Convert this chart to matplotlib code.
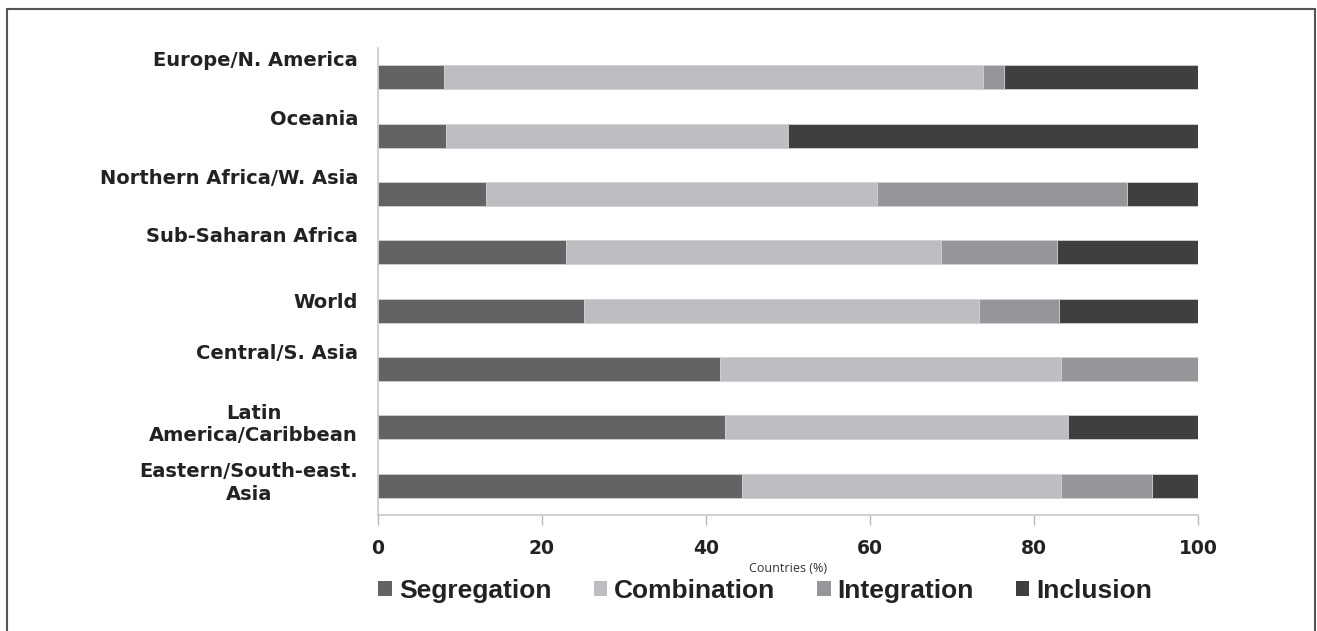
import numpy as np
import matplotlib
matplotlib.use('Agg')
import matplotlib.pyplot as plt
from matplotlib.patches import Patch, Rectangle

regions = ['Europe/N. America', 'Oceania', 'Northern Africa/W. Asia',
           'Sub-Saharan Africa', 'World', 'Central/S. Asia',
           'Latin\nAmerica/Caribbean', 'Eastern/South-east.\nAsia']

segregation = [8.0, 8.3, 13.2, 22.9, 25.1, 41.7, 42.3, 44.4]
combination = [65.8, 41.7, 47.6, 45.7, 48.2, 41.6, 41.9, 38.9]
integration = [2.5, 0.0, 30.6, 14.2, 9.7, 16.7, 0.0, 11.1]
inclusion = [23.7, 50.0, 8.6, 17.2, 17.0, 0.0, 15.8, 5.6]

series = ['Segregation', 'Combination', 'Integration', 'Inclusion']
colors = ['#636365', '#bdbec2', '#95969a', '#3f3f3f']
xticks = [0, 20, 40, 60, 80, 100]

# vertical nudge (pixels) for each category label
label_lift = [17, 16, 15, 16, 8, 16, 3, 3]

W, H = 1317, 631
fig = plt.figure(figsize=(W / 100, H / 100), dpi=100)
ax = fig.add_axes([378 / W, 1 - 515 / H, 820 / W, 467 / H])

y = np.arange(len(regions))
left = np.zeros(len(regions))
for vals, name, c in zip([segregation, combination, integration, inclusion], series, colors):
    ax.barh(y, vals, left=left, height=0.41, color=c, edgecolor='#d0d0d0',
            linewidth=0.6, label=name)
    left += np.array(vals)

ax.set_ylim(len(regions) - 0.5, -0.5)
ax.set_xlim(0, 100)
ax.set_xticks(xticks)
ax.set_xticklabels([str(t) for t in xticks], fontsize=13.5, fontweight='bold',
                   color='#222222')
ax.set_yticks([])
ax.tick_params(axis='x', length=7, width=1, color='#b8b8b8', pad=10)

for s in ['top', 'right']:
    ax.spines[s].set_visible(False)
for s in ['left', 'bottom']:
    ax.spines[s].set_color('#c8c8c8')
    ax.spines[s].set_linewidth(1.2)

for i, (lab, lift) in enumerate(zip(regions, label_lift)):
    ax.annotate(lab, xy=(0, i), xycoords=('axes fraction', 'data'),
                xytext=(-20, lift), textcoords='offset pixels',
                ha='right', va='center', multialignment='center',
                fontsize=14, fontweight='bold', color='#222222', linespacing=1.25)

fig.text(788 / W, 1 - 568 / H, 'Countries (%)', ha='center', va='center',
         fontsize=9, family='Open Sans', color='#333333')

handles = [Patch(facecolor=c, edgecolor='none') for c in colors]
fig.legend(handles, series, loc='center left', bbox_to_anchor=(360 / W, 1 - 591 / H),
           ncol=4, frameon=False, handlelength=0.5, handleheight=0.5,
           handletextpad=0.27, columnspacing=1.6, borderpad=0.2,
           prop={'size': 19, 'weight': 'bold', 'family': 'Liberation Sans'},
           labelcolor='#222222')

# outer frame
fig.patches.append(Rectangle((7 / W, -0.05), 1308 / W, 1.05 - 9 / H,
                             transform=fig.transFigure, fill=False,
                             edgecolor='#555555', linewidth=1.5))

fig.savefig('out.png', dpi=100)
